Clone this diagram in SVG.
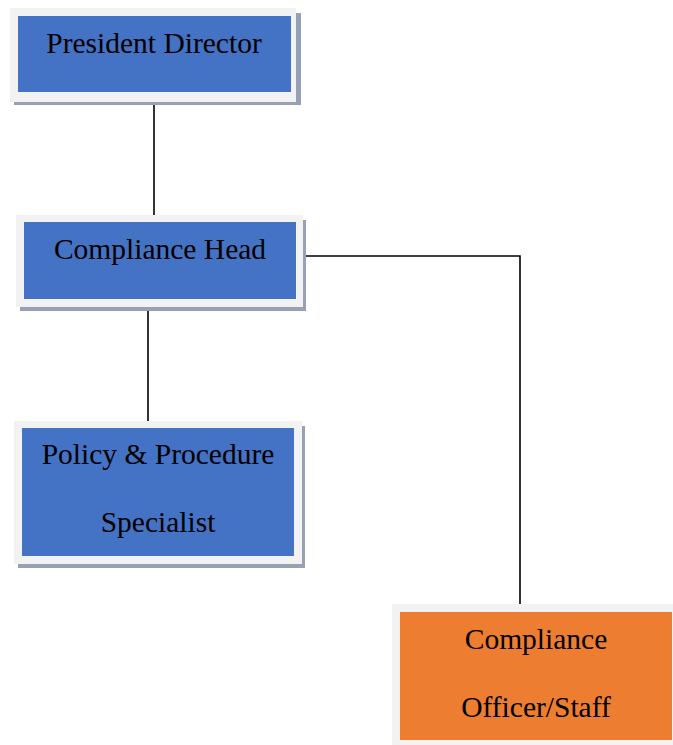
<svg xmlns="http://www.w3.org/2000/svg" width="673" height="745" viewBox="0 0 673 745">
<style>
.sh{fill:#97A1B6}
.fr{fill:#F2F2F2}
.bl{fill:#4472C4}
.or{fill:#ED7D31}
.t{font-family:"Liberation Serif","Times New Roman",serif;font-size:29.5px;fill:#000;text-anchor:middle}
.c{stroke:#000;stroke-width:1.6;fill:none}
</style>
<rect width="673" height="745" fill="#fff"/>
<g id="connectors">
<line class="c" x1="154" y1="97" x2="154" y2="219"/>
<line class="c" x1="148" y1="303" x2="148" y2="425"/>
<polyline class="c" points="302,256 520,256 520,607"/>
</g>
<g id="president-director">
<rect class="sh" x="14" y="13" width="287" height="92"/>
<rect class="fr" x="10" y="8" width="286" height="94"/>
<rect class="bl" x="18" y="16" width="273" height="76"/>
<text class="t" x="154" y="53">President Director</text>
</g>
<g id="compliance-head">
<rect class="sh" x="20" y="220" width="286" height="91"/>
<rect class="fr" x="16" y="215" width="287" height="92"/>
<rect class="bl" x="24" y="222" width="272" height="77"/>
<text class="t" x="160" y="259">Compliance Head</text>
</g>
<g id="policy-procedure-specialist">
<rect class="sh" x="18" y="426" width="287" height="142"/>
<rect class="fr" x="14" y="421" width="288" height="143"/>
<rect class="bl" x="22" y="428" width="272" height="128"/>
<text class="t" x="158" y="464">Policy &amp; Procedure</text>
<text class="t" x="158" y="532">Specialist</text>
</g>
<g id="compliance-officer-staff">
<rect class="fr" x="392" y="604" width="281" height="141"/>
<rect class="or" x="400" y="612" width="272" height="128"/>
<text class="t" x="536" y="649">Compliance</text>
<text class="t" x="536" y="717">Officer/Staff</text>
</g>
</svg>
